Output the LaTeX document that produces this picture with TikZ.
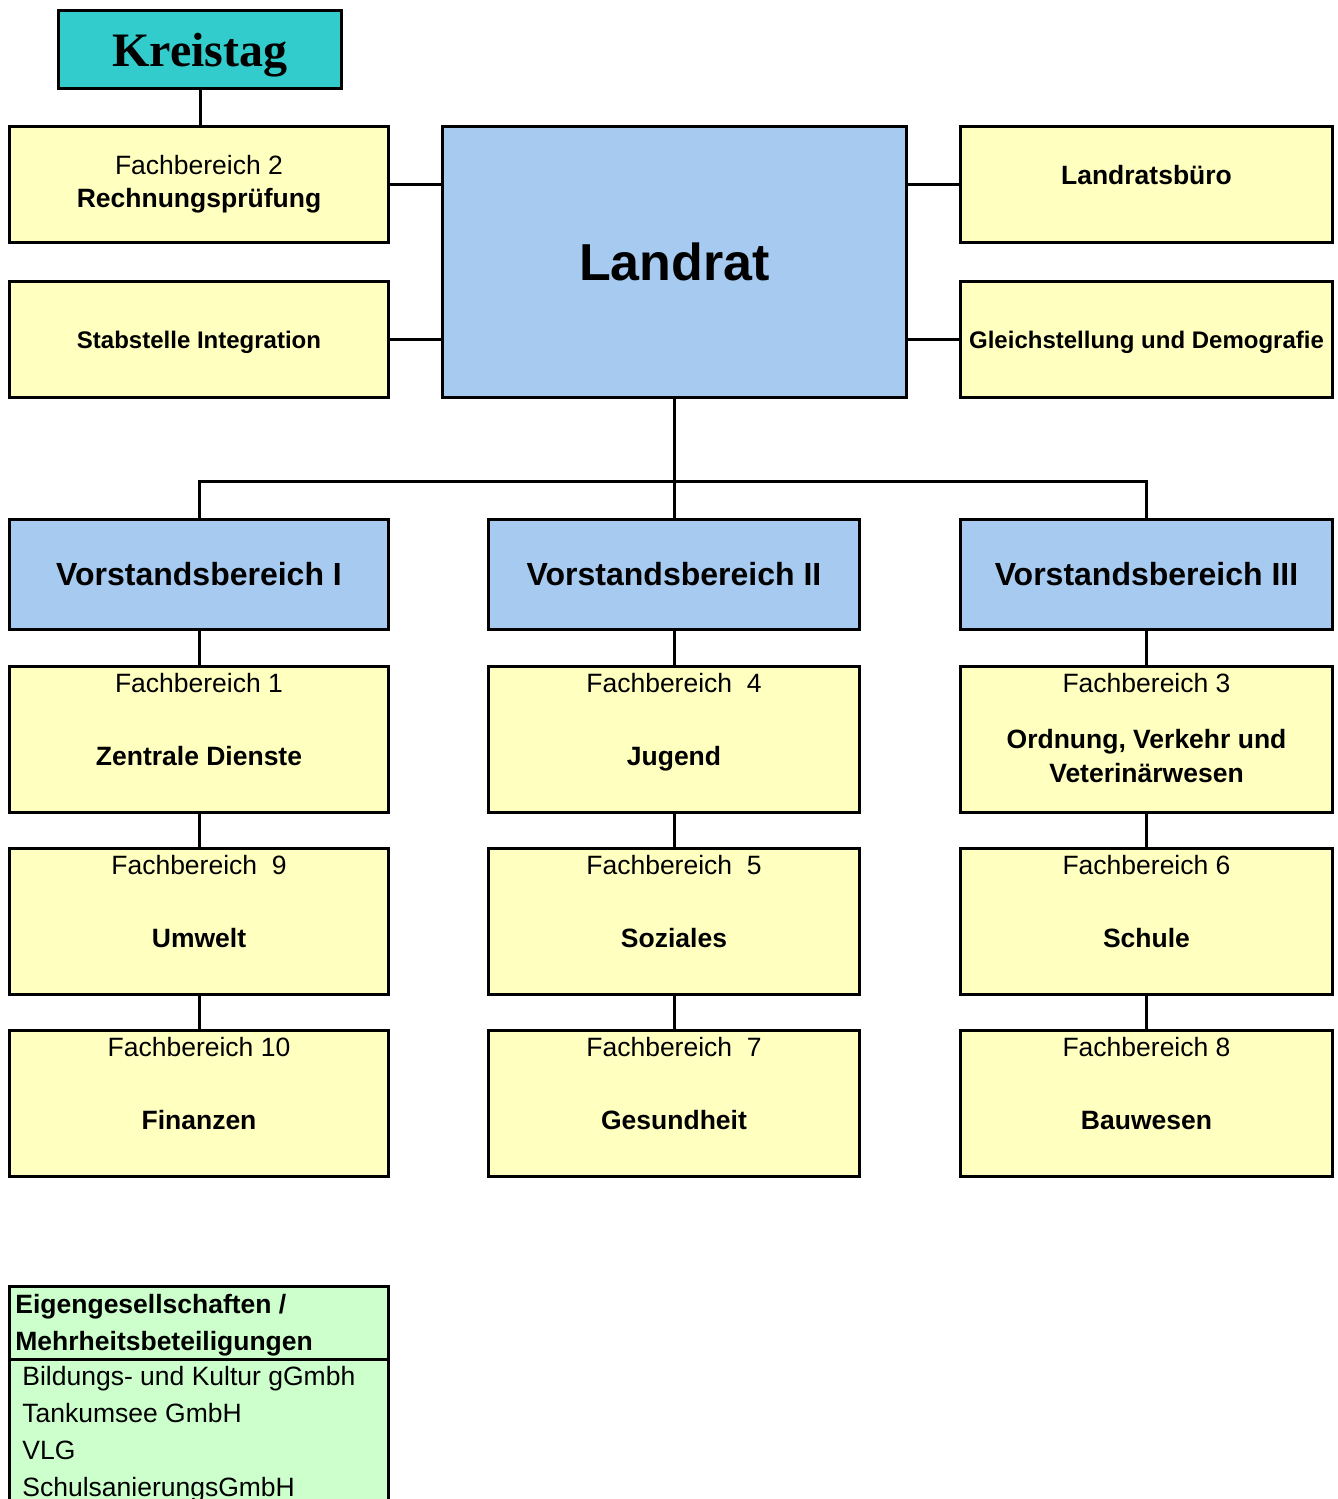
\documentclass[tikz,border=0pt]{standalone}
\usepackage{fontspec}
\setmainfont{Liberation Sans}
\newfontfamily\kreisfont{Liberation Serif}

\definecolor{fbyellow}{HTML}{FFFFC0}
\definecolor{lrblue}{HTML}{A6CAF0}
\definecolor{ktteal}{HTML}{33CCCC}
\definecolor{eggreen}{HTML}{CCFFCC}

\tikzset{
  box/.style={draw, line width=1.5pt, inner sep=0pt, anchor=north west},
  gelb/.style={box, fill=fbyellow},
  blau/.style={box, fill=lrblue},
  txt/.style={anchor=base, inner sep=0pt, font={\fontsize{13.25}{16.5}\selectfont}},
  txtb/.style={txt, font={\fontsize{13.25}{16.5}\selectfont\bfseries}},
  conn/.style={line width=1.5pt},
}

% Fachbereich box: name, x, y, width, title, body
\newcommand{\fbbox}[6]{%
  \node[gelb, minimum width=#4, minimum height=73pt] (#1) at (#2,#3) {};
  \node[txt] (#1t) at ([yshift=-13.5pt]#1.north) {#5};
  \node[txtb] (#1b) at ([yshift=-50pt]#1.north) {#6};
}

\begin{document}
\begin{tikzpicture}[x=0.5pt, y=-0.5pt]
  \clip (0,0) rectangle (1338,1499);

  % top
  \node[box, fill=ktteal, minimum width=141.5pt, minimum height=39pt, text depth=0pt,
        font={\kreisfont\fontsize{24}{28}\selectfont\bfseries}] (kt) at (57,9) {Kreistag};
  \node[gelb, minimum width=189.5pt, minimum height=58pt, align=center,
        font={\fontsize{13.25}{16.5}\selectfont}] (fb2) at (8,125) {Fachbereich 2\\\textbf{Rechnungsprüfung}};
  \node[gelb, minimum width=189.5pt, minimum height=58pt, text depth=0pt,
        font={\fontsize{12}{14}\selectfont\bfseries}] (stab) at (8,280) {Stabstelle Integration};
  \node[blau, minimum width=232pt, minimum height=135.5pt,
        font={\fontsize{26}{30}\selectfont\bfseries}] (land) at (441,125) {Landrat};
  \node[gelb, minimum width=186pt, minimum height=58pt] (lb) at (959,125) {};
  \node[txtb] (lbt) at (lb.center) {Landratsbüro};
  \node[gelb, minimum width=186pt, minimum height=58pt, text depth=0pt,
        font={\fontsize{12}{14}\selectfont\bfseries}] (gl) at (959,280) {Gleichstellung und Demografie};

  % Vorstandsbereiche
  \node[blau, minimum width=189.5pt, minimum height=55pt,
        font={\fontsize{16}{19}\selectfont\bfseries}] (v1) at (8,518) {Vorstandsbereich I};
  \node[blau, minimum width=185.5pt, minimum height=55pt,
        font={\fontsize{16}{19}\selectfont\bfseries}] (v2) at (487,518) {Vorstandsbereich II};
  \node[blau, minimum width=186pt, minimum height=55pt,
        font={\fontsize{16}{19}\selectfont\bfseries}] (v3) at (959,518) {Vorstandsbereich III};

  % Fachbereiche
  \fbbox{fb1}{8}{665}{189.5pt}{Fachbereich 1}{Zentrale Dienste}
  \fbbox{fb9}{8}{847}{189.5pt}{Fachbereich\ \ 9}{Umwelt}
  \fbbox{fb10}{8}{1029}{189.5pt}{Fachbereich 10}{Finanzen}
  \fbbox{fb4}{487}{665}{185.5pt}{Fachbereich\ \ 4}{Jugend}
  \fbbox{fb5}{487}{847}{185.5pt}{Fachbereich\ \ 5}{Soziales}
  \fbbox{fb7}{487}{1029}{185.5pt}{Fachbereich\ \ 7}{Gesundheit}
  \node[gelb, minimum width=186pt, minimum height=73pt] (fb3) at (959,665) {};
  \node[txt] (fb3t) at ([yshift=-13.5pt]fb3.north) {Fachbereich 3};
  \node[txtb] (fb3b) at ([yshift=-41.5pt]fb3.north) {Ordnung, Verkehr und};
  \node[txtb] (fb3c) at ([yshift=-58.5pt]fb3.north) {Veterinärwesen};
  \fbbox{fb6}{959}{847}{186pt}{Fachbereich 6}{Schule}
  \fbbox{fb8}{959}{1029}{186pt}{Fachbereich 8}{Bauwesen}

  % Beteiligungen
  \node[box, fill=eggreen, minimum width=189.5pt, minimum height=130pt] (eig) at (8,1285) {};
  \coordinate (sepl) at (8,1359);
  \coordinate (sepr) at (387,1359);
  \draw[line width=1.5pt] (sepl) -- (sepr);
  \node[txtb, anchor=base west] (eig1) at (15,1313) {Eigengesellschaften /};
  \node[txtb, anchor=base west] (eig2) at (15,1350) {Mehrheitsbeteiligungen};
  \node[txt, anchor=base west] (bk) at (22,1385) {Bildungs- und Kultur gGmbh};
  \node[txt, anchor=base west] (tk) at (22,1422) {Tankumsee GmbH};
  \node[txt, anchor=base west] (vlg) at (22,1459) {VLG};
  \node[txt, anchor=base west] (ss) at (22,1496) {SchulsanierungsGmbH};

  % Verbindungen
  \draw[conn] (kt.south) -- (kt.south |- fb2.north);
  \draw[conn] (fb2.east) -- (fb2.east -| land.west);
  \draw[conn] (stab.east) -- (stab.east -| land.west);
  \draw[conn] (lb.west) -- (lb.west -| land.east);
  \draw[conn] (gl.west) -- (gl.west -| land.east);
  \draw[conn] (land.south) -- (land.south |- v2.north);
  \coordinate (bus) at (673,481);
  \draw[conn] (v1.north) |- (bus) -| (v3.north);
  \foreach \a/\b in {v1/fb1, fb1/fb9, fb9/fb10, v2/fb4, fb4/fb5, fb5/fb7, v3/fb3, fb3/fb6, fb6/fb8}
    \draw[conn] (\a.south) -- (\b.north);
\end{tikzpicture}
\end{document}
